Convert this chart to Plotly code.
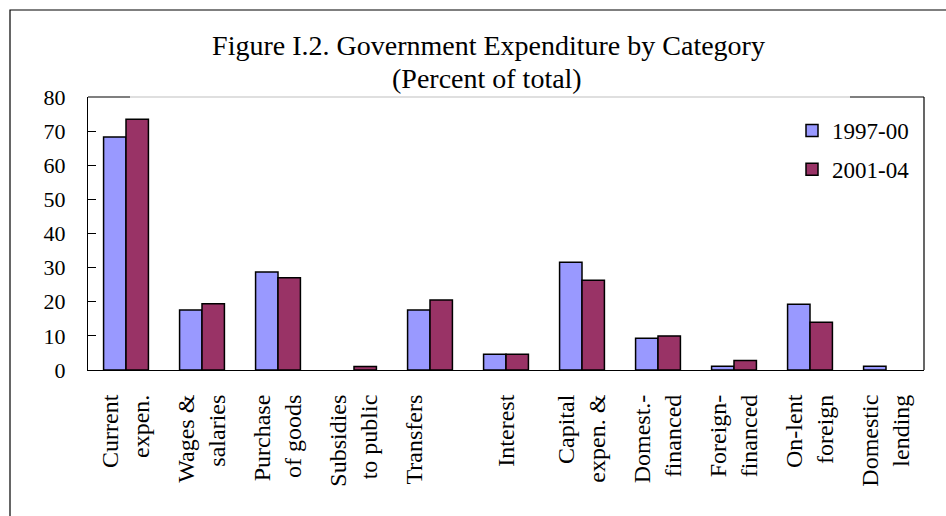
import plotly.graph_objects as go

categories = ["Current<br>expen.", "Wages &amp;<br>salaries", "Purchase<br>of goods",
              "Subsidies<br>to public", "Transfers<br>\u00a0", "Interest",
              "Capital<br>expen. &amp;", "Domest.-<br>financed", "Foreign-<br>financed",
              "On-lent<br>foreign", "Domestic<br>lending"]
series_names = ["1997-00", "2001-04"]
values_1997_00 = [68.3, 17.6, 28.7, None, 17.6, 4.6, 31.6, 9.3, 1.1, 19.3, 1.1]
values_2001_04 = [73.5, 19.4, 27.0, 1.0, 20.5, 4.6, 26.3, 10.0, 2.8, 14.0, None]
y_ticks = [0, 10, 20, 30, 40, 50, 60, 70, 80]

FONT = "Liberation Serif"
W, H = 946, 516
L, R, T, B = 88, 22, 97, 146
pw, ph = W - L - R, H - T - B

def px(x):
    return (x - L) / pw

def py(y):
    return (H - B - y) / ph

fig = go.Figure()
fig.add_trace(go.Bar(x=categories, y=values_1997_00, name=series_names[0],
                     marker=dict(color="#9999FF", line=dict(color="black", width=1.5)),
                     legendgroup="a"))
fig.add_trace(go.Bar(x=categories, y=values_2001_04, name=series_names[1],
                     marker=dict(color="#993366", line=dict(color="black", width=1.5)),
                     legendgroup="b"))

shapes = [
    dict(type="rect", xref="paper", yref="paper", x0=px(10), x1=px(952), y0=py(522), y1=py(10),
         line=dict(color="black", width=1.2), fillcolor="rgba(0,0,0,0)", layer="below"),
    dict(type="line", xref="paper", yref="paper", x0=1, x1=1, y0=0, y1=1,
         line=dict(color="black", width=1.2)),
    dict(type="line", xref="paper", yref="paper", x0=0, x1=px(130), y0=1, y1=1,
         line=dict(color="black", width=1.2)),
    dict(type="line", xref="paper", yref="paper", x0=px(130), x1=px(850), y0=1, y1=1,
         line=dict(color="#c0c0c0", width=1.2)),
    dict(type="line", xref="paper", yref="paper", x0=px(850), x1=1, y0=1, y1=1,
         line=dict(color="black", width=1.2)),
]

fig.update_layout(
    width=W, height=H,
    margin=dict(l=L, r=R, t=T, b=B, pad=0),
    paper_bgcolor="white", plot_bgcolor="white",
    font=dict(family=FONT, size=22, color="black"),
    title=dict(text="Figure I.2. Government Expenditure by Category",
               x=488.5 / W, xanchor="center", y=1 - 45 / H, yanchor="middle",
               font=dict(family=FONT, size=28, color="black")),
    annotations=[dict(text="(Percent of total)", xref="paper", yref="paper",
                      x=px(487), y=py(78), xanchor="center", yanchor="middle",
                      showarrow=False, font=dict(family=FONT, size=28, color="black"))],
    barmode="group", bargap=0.41, bargroupgap=0.0,
    showlegend=True,
    legend=dict(x=px(792), y=py(109), xanchor="left", yanchor="top",
                font=dict(family=FONT, size=23, color="black"),
                bgcolor="rgba(0,0,0,0)", traceorder="grouped", tracegroupgap=6),
    shapes=shapes,
)
fig.update_xaxes(type="category", showline=True, linecolor="black", linewidth=1.2,
                 ticks="", tickangle=-90, showgrid=False, ticklabelstandoff=14,
                 tickfont=dict(family=FONT, size=24, color="black"))
fig.update_yaxes(range=[0, 80], tickvals=y_ticks, ticks="inside", ticklen=8,
                 tickcolor="black", tickwidth=1.2, showline=True, linecolor="black",
                 linewidth=1.2, showgrid=False, zeroline=False, ticklabelstandoff=17,
                 tickfont=dict(family=FONT, size=22, color="black"))

fig.write_html("out.html")
